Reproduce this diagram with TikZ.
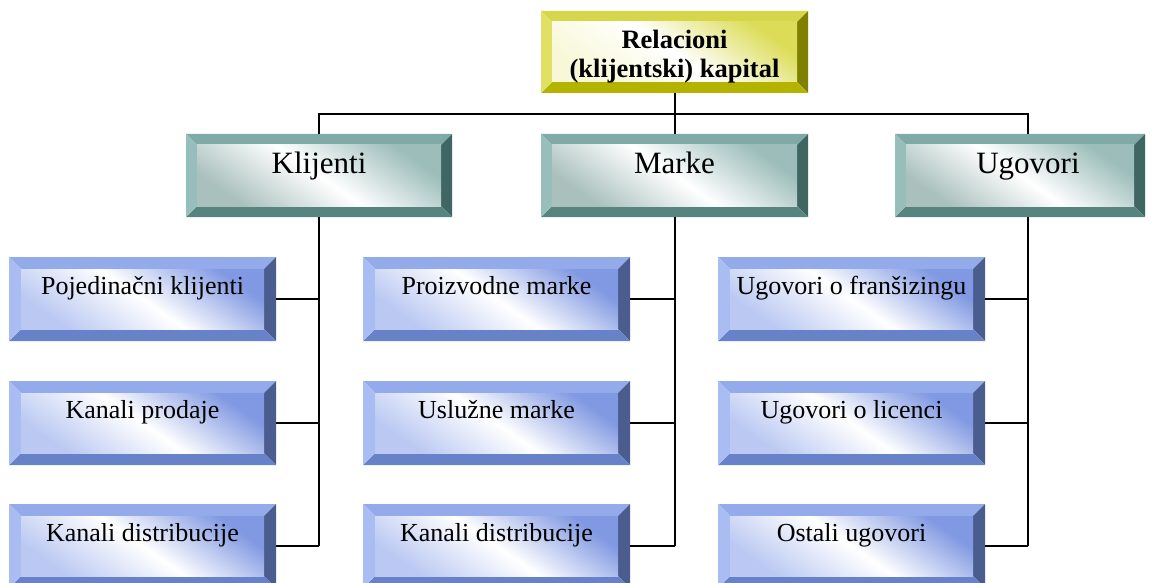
\documentclass[tikz,border=0pt]{standalone}
\usepackage{fontspec}
\setmainfont{Liberation Serif}
\usetikzlibrary{calc}

% bevel palettes: T top, L left, R right, B bottom, C/D face gradient ends
\definecolor{leafT}{HTML}{93ABEB}
\definecolor{leafL}{HTML}{A9BDF2}
\definecolor{leafR}{HTML}{4A5D8E}
\definecolor{leafB}{HTML}{6782C9}
\definecolor{leafC}{HTML}{8199E2}
\definecolor{leafD}{HTML}{BAC8F2}
\definecolor{tealT}{HTML}{7FAAA6}
\definecolor{tealL}{HTML}{97BEBA}
\definecolor{tealR}{HTML}{3F6663}
\definecolor{tealB}{HTML}{578480}
\definecolor{tealC}{HTML}{9CBDBA}
\definecolor{tealD}{HTML}{A9C0BD}
\definecolor{oliveT}{HTML}{D6D64A}
\definecolor{oliveL}{HTML}{E0E064}
\definecolor{oliveR}{HTML}{808000}
\definecolor{oliveB}{HTML}{B3B300}
\definecolor{oliveC}{HTML}{DCDC58}
\definecolor{oliveD}{HTML}{F8F8D8}

\newcommand\bevelpaint{%
  \path (path picture bounding box.north west) coordinate (bvA)
        (path picture bounding box.north east) coordinate (bvB)
        (path picture bounding box.south east) coordinate (bvC)
        (path picture bounding box.south west) coordinate (bvD);
  \path ([shift={(\bvw,-\bvw)}]bvA) coordinate (bva)
        ([shift={(-\bvw,-\bvw)}]bvB) coordinate (bvb)
        ([shift={(-\bvw,\bvw)}]bvC) coordinate (bvc)
        ([shift={(\bvw,\bvw)}]bvD) coordinate (bvd);
  \fill[\bvpal T] (bvA) -- (bvB) -- (bvb) -- (bva) -- cycle;
  \fill[\bvpal R] (bvB) -- (bvC) -- (bvc) -- (bvb) -- cycle;
  \fill[\bvpal B] (bvC) -- (bvD) -- (bvd) -- (bvc) -- cycle;
  \fill[\bvpal L] (bvD) -- (bvA) -- (bva) -- (bvd) -- cycle;
  \shade[top color=\bvpal C, bottom color=\bvpal D, middle color=white,
         shading angle=-35] (bva) rectangle (bvc);
}

\tikzset{
  palette/.store in=\bvpal,
  bevel width/.store in=\bvw,
  palette=leaf, bevel width=11pt,
  bevel/.style={rectangle, inner sep=0pt, path picture={\bevelpaint}},
  rootbox/.style={bevel, palette=olive, minimum width=267pt, minimum height=82pt,
    align=center, font=\fontsize{26.5pt}{29pt}\selectfont\bfseries,
    text height=51pt, text depth=0pt},
  groupbox/.style={bevel, palette=teal, minimum height=83pt,
    font=\fontsize{31pt}{35pt}\selectfont, text height=20pt, text depth=23pt},
  leafbox/.style={bevel, palette=leaf, bevel width=12pt, minimum width=267pt,
    minimum height=84pt, font=\fontsize{26pt}{30pt}\selectfont,
    text height=8pt, text depth=18pt},
  conn/.style={draw=black, line width=2pt},
}

\begin{document}
\begin{tikzpicture}[x=1pt, y=-1pt]
  \useasboundingbox (0,0) rectangle (1154,583);

  % top level
  \node[rootbox] (root) at (674.5,52) {Relacioni\\(klijentski) kapital};

  % second level
  \node[groupbox, minimum width=266pt] (klij) at (319,175.5) {Klijenti};
  \node[groupbox, minimum width=267pt] (mark) at (674.5,175.5) {Marke};
  \node[groupbox, minimum width=250pt] (ugov) at (1020,175.5) {\hspace*{16pt}Ugovori};

  % leaves
  \node[leafbox] (k1) at (142.5,299) {Pojedinačni klijenti};
  \node[leafbox] (k2) at (142.5,423) {Kanali prodaje};
  \node[leafbox] (k3) at (142.5,546) {Kanali distribucije};
  \node[leafbox] (m1) at (496.5,299) {Proizvodne marke};
  \node[leafbox] (m2) at (496.5,423) {Uslužne marke};
  \node[leafbox] (m3) at (496.5,546) {Kanali distribucije};
  \node[leafbox] (u1) at (851.5,299) {Ugovori o franšizingu};
  \node[leafbox] (u2) at (851.5,423) {Ugovori o licenci};
  \node[leafbox] (u3) at (851.5,546) {Ostali ugovori};

  % trunk and the bar across the second level
  \coordinate (bar) at (674.5,114);
  \coordinate (utop) at ([xshift=8pt]ugov.north);
  \coordinate (ubot) at ([xshift=8pt]ugov.south);
  \draw[conn] (root.south) -- (mark.north);
  \draw[conn] (klij.north) -- (klij.north |- bar) -- (bar -| utop) -- (utop);

  % spines down each column
  \draw[conn] (klij.south) -- (klij.south |- k3.east);
  \draw[conn] (mark.south) -- (mark.south |- m3.east);
  \draw[conn] (ubot) -- (ubot |- u3.east);

  % branches into the leaves
  \foreach \n in {k1,k2,k3} \draw[conn] (\n.east) -- (\n.east -| klij.south);
  \foreach \n in {m1,m2,m3} \draw[conn] (\n.east) -- (\n.east -| mark.south);
  \foreach \n in {u1,u2,u3} \draw[conn] (\n.east) -- (\n.east -| ubot);
\end{tikzpicture}
\end{document}
